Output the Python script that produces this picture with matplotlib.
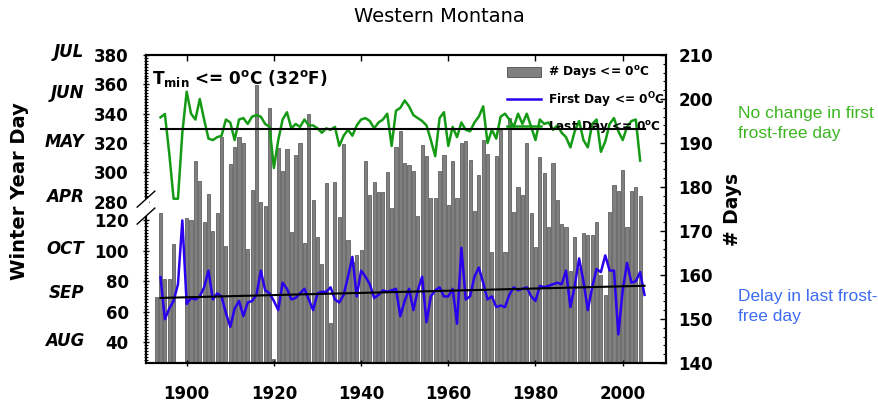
import numpy as np
import matplotlib.pyplot as plt
from matplotlib.patches import Patch, Rectangle
from matplotlib.lines import Line2D
from matplotlib.ticker import FixedLocator, MultipleLocator

plt.rcParams['font.family'] = ['DejaVu Sans']
plt.rcParams['font.weight'] = 'bold'
plt.rcParams['mathtext.fontset'] = 'dejavusans'

nan = np.nan

# ---- data ----
bar_years = np.arange(1893, 2005)
days_below = [
    155, 174, 159, 159, 167, nan, nan,                                        # 1893-1899
    173, 172.5, 185.8, 181.4, 172, 178.4, 170, 174, 191.4, 166.5,             # 1900s
    185.2, 189.2, 191.4, 189.9, 166, 179.3, 203.2, 176.7, 175.7, 197.9,       # 1910s
    141, 188.8, 183.7, 188.6, 169.8, 187.2, 189.9, 167.2, 196.7, 177,         # 1920s
    168.7, 162.6, 180.8, 149, 181.2, 173.2, 189.8, 168, 163, 164.5,           # 1930s
    165.7, 185.8, 178.2, 181.2, 178.9, 178.9, 183.5, 175.2, 189.2, 192.8,     # 1940s
    185.4, 185, 183.7, 173.4, 189.5, 187, 177.4, 177.4, 183.7, 187.3,         # 1950s
    175.9, 185.8, 177.4, 189.9, 190.4, 186.1, 174.5, 182.7, 190.7, 187.5,     # 1960s
    165.3, 187, 193, 165.3, 195.6, 174.4, 180.1, 178.2, 189.9, 174,           # 1970s
    166.4, 186.9, 183.1, 171, 185.4, 177, 171.7, 171, 160.8, 168.7,           # 1980s
    161.5, 169.5, 169.2, 169.2, 172.1, 160, 155.5, 174.4, 180.5, 179,         # 1990s
    183.9, 171, 179, 180, 178,                                                # 2000-2004
]

line_years = np.arange(1894, 2006)
first_day = [
    82.7, 55, 62, 67, 78, 120,
    65, 69, 68, 70, 76, 87, 68, 72, 70, 59,
    50, 62, 67, 57, 66, 67, 71, 87, 74, 72,
    67, 61, 79, 75, 68, 69, 72, 75, 68, 61,
    72, 73, 73, 76, 68, 66, 71, 83, 96, 70,
    87, 83, 78, 69, 71, 74, 73, 74, 75, 57,
    67, 75, 61, 74, 83, 53, 70, 74, 76, 70,
    70, 75, 52, 102, 68, 70, 83, 89, 79, 68,
    70, 63, 64, 63, 71, 76, 74, 75, 76, 70,
    67, 77, 76, 77, 78, 79, 78, 87, 63, 77,
    95, 80, 61, 76, 88, 86, 97, 87, 87, 45,
    74, 92, 79, 80, 86, 71,
]
last_day = [
    337.5, 339.8, 313, 282, 282, 327,
    355, 340, 336, 350, 336, 323, 322, 324, 325, 336,
    334, 322, 336, 337, 333, 338, 339, 338, 333, 331,
    303, 322, 336, 341, 330, 333, 331, 336, 332, 332,
    330, 327, 330, 329, 331, 318, 325, 329, 325, 332,
    336, 337, 335, 330, 334, 336, 340, 318, 342, 344,
    349, 345, 339, 337, 335, 332, 322, 311, 337, 341,
    318, 331, 324, 334, 329, 328, 334, 338, 345, 320,
    329, 323, 338, 340, 336, 331, 340, 333, 340, 331,
    322, 336, 333, 334, 329, 332, 327, 324, 317, 328,
    335, 322, 317, 333, 336, 314, 321, 333, 337, 328,
    322, 331, 335, 336, 308, nan,
]

trend_years = [1894, 2005]
first_trend = [69, 77]
last_trend = [329.5, 329.5]

months = ["JUL", "JUN", "MAY", "APR", "OCT", "SEP", "AUG"]
month_pos = [382, 354, 321, 283, 101, 72, 41]

BLUE = '#2a00ee'
GREEN = '#159a15'
BAR = '#808080'

# broken left axis: 40-120 and 280-380 on one axis
GAP = 12.3
SQ = 0.965


def fwd(v):
    v = np.asarray(v, dtype=float)
    return np.where(v <= 120, v,
                    np.where(v >= 280, 120 + GAP + (v - 280) * SQ,
                             120 + (v - 120) * GAP / 160))


def inv(c):
    c = np.asarray(c, dtype=float)
    return np.where(c <= 120, c,
                    np.where(c >= 120 + GAP, 280 + (c - 120 - GAP) / SQ,
                             120 + (c - 120) * 160 / GAP))


fig = plt.figure(figsize=(8.79, 4.01), dpi=100)
ax = fig.add_axes([146 / 879, 1 - 363 / 401, 520 / 879, 308 / 401])
ax2 = ax.twinx()

# bars (# days) on the host axes, right-hand scale
ax.bar(bar_years, days_below, width=0.72, color=BAR, edgecolor='#4d4d4d', linewidth=0.5)
ax.set_xlim(1890.67, 2009.93)
ax.set_ylim(140, 210)
ax.yaxis.tick_right()
ax.yaxis.set_label_position('right')
ax.set_ylabel('# Days', fontsize=13.5, fontweight='bold', labelpad=7)
ax.yaxis.set_major_locator(MultipleLocator(10))
ax.yaxis.set_minor_locator(MultipleLocator(2))
ax.xaxis.set_major_locator(MultipleLocator(20))
ax.tick_params(axis='y', which='major', direction='in', length=4, width=1, labelsize=12, pad=9,
               left=False, labelleft=False, right=True, labelright=True)
ax.tick_params(axis='y', which='minor', direction='in', length=2.5, width=0.8,
               left=False, right=True)
ax.tick_params(axis='x', which='major', direction='inout', length=5, width=1,
               labelsize=12, pad=13, top=False)
for s in ax.spines.values():
    s.set_linewidth(1.5)

# winter-year days on the twin axes, broken left scale
ax2.set_yscale('function', functions=(fwd, inv))
ax2.set_ylim(26.2, 380)
ax2.yaxis.tick_left()
ax2.yaxis.set_label_position('left')
major = list(range(40, 121, 20)) + list(range(280, 381, 20))
minor = list(range(28, 121, 2)) + list(range(280, 381, 2))
ax2.yaxis.set_major_locator(FixedLocator(major))
ax2.yaxis.set_minor_locator(FixedLocator(minor))
ax2.tick_params(axis='y', which='major', direction='inout', length=5, width=1, labelsize=12, pad=10,
                left=True, labelleft=True, right=False, labelright=False)
ax2.tick_params(axis='y', which='minor', direction='inout', length=3, width=0.8,
                left=True, right=False)
ax2.xaxis.set_visible(True)
ax2.tick_params(axis='x', which='major', direction='in', length=4, width=1,
                bottom=False, top=True, labelbottom=False, labeltop=False)
for s in ax2.spines.values():
    s.set_linewidth(1.5)

ax2.plot(line_years, first_day, color=BLUE, lw=1.8)
ax2.plot(line_years, last_day, color=GREEN, lw=1.8)
ax2.plot(trend_years, first_trend, color='black', lw=1.5)
ax2.plot(trend_years, last_trend, color='black', lw=1.5)

# break marks on the left spine
ax2.add_patch(Rectangle((-0.006, 0.477), 0.012, 0.055, transform=ax2.transAxes,
                        facecolor='white', edgecolor='none', clip_on=False, zorder=5))
for yc in (0.532, 0.477):
    ax2.plot([-0.017, 0.017], [yc - 0.026, yc + 0.026], color='black', lw=1,
             transform=ax2.transAxes, clip_on=False, zorder=6)

for m, p in zip(months, month_pos):
    ax2.text(-0.119, p, m, transform=ax2.get_yaxis_transform(), ha='right', va='center',
             fontsize=12, fontweight='bold', fontstyle='italic')

ax2.text(0.012, 0.958, r'$\mathbf{T_{min}}$ <= 0$^{\mathbf{o}}$C (32$^{\mathbf{o}}$F)',
         transform=ax2.transAxes, fontsize=12.2, fontweight='bold', va='top', ha='left')

handles = [Patch(facecolor=BAR, edgecolor='#4d4d4d', linewidth=0.6),
           Line2D([], [], color=BLUE, lw=1.8),
           Line2D([], [], color=GREEN, lw=1.8)]
labels = [r'# Days <= 0$^{\mathbf{o}}$C', r'First Day <= 0$^{\mathbf{O}}$C',
          r'Last Day <= 0$^{\mathbf{o}}$C']
ax2.legend(handles, labels, loc='upper left', bbox_to_anchor=(0.694, 0.97), frameon=False,
           prop={'size': 8.7, 'weight': 'bold'}, handlelength=2.8, handleheight=1.0,
           handletextpad=0.6, labelspacing=0.75, borderaxespad=0, borderpad=0)

fig.text(20 / 879, 1 - 191 / 401, 'Winter Year Day', rotation=90, ha='center', va='center',
         fontsize=14, fontweight='bold')
fig.text(0.5, 1 - 17 / 401, 'Western Montana', ha='center', va='center',
         fontsize=14, fontweight='normal')
fig.text(738 / 879, 1 - 106 / 401, 'No change in first\nfrost-free day', ha='left', va='top',
         color='#3cb521', fontsize=12.5, fontweight='normal', family='Liberation Sans',
         linespacing=1.45)
fig.text(738 / 879, 1 - 289 / 401, 'Delay in last frost-\nfree day', ha='left', va='top',
         color='#3d6cf2', fontsize=12.5, fontweight='normal', family='Liberation Sans',
         linespacing=1.45)

fig.savefig('out.png', dpi=100)
